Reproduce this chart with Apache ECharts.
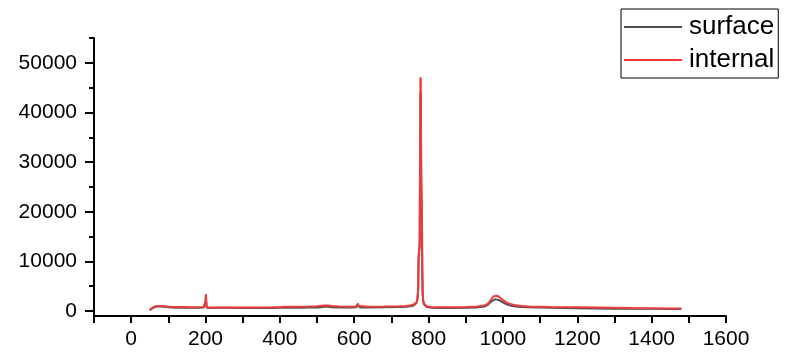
<!DOCTYPE html>
<html>
<head>
<meta charset="utf-8">
<script src="https://cdn.jsdelivr.net/npm/echarts@6/dist/echarts.min.js"></script>
<style>html,body{margin:0;padding:0;background:#fff;}#c{width:802px;height:359px;}</style>
</head>
<body>
<div id="c"></div>
<script>
var xValues = [50,55,60,65,70,80,90,100,120,140,160,180,195,198,200,201,202,203,205,210,230,260,300,340,380,400,410,420,450,480,500,510,520,530,540,560,590,605,608,610,612,615,640,680,720,740,750,760,765,768,770,772,773,774,775,776,777,778,779,780,781,782,783,784,785,787,790,795,800,810,830,860,900,930,950,960,970,975,980,985,990,1000,1010,1020,1030,1050,1070,1100,1130,1160,1200,1250,1300,1350,1400,1450,1480];
var surfaceValues = [150,500,700,850,900,900,850,750,650,650,650,680,700,900,1800,2800,1700,700,600,620,640,640,620,620,620,640,650,660,680,700,720,760,900,850,750,700,700,750,1000,1300,900,720,720,740,800,850,950,1100,1400,1700,2300,4200,10000,11300,11000,13000,28000,44000,43500,28000,21000,20000,8000,3600,2300,1400,1000,800,700,650,620,620,650,700,900,1300,2000,2300,2400,2350,2150,1750,1350,1100,950,820,750,700,650,620,550,500,480,460,440,420,400];
var internalValues = [200,600,800,950,1000,1000,950,850,800,800,780,780,800,1000,2000,3400,2000,800,700,700,720,720,720,730,740,760,850,850,880,900,950,1050,1100,1100,1000,900,880,900,1100,1500,1000,880,880,900,950,1000,1100,1300,1600,1800,2500,4500,11000,11900,11500,14000,30000,47100,46500,30000,23000,22000,9000,4000,2500,1600,1200,950,850,780,750,760,800,900,1100,1500,2500,3000,3200,3100,2800,2200,1700,1400,1200,1000,900,850,800,780,750,700,650,600,560,520,500];
var xTickLabels = ['0','200','400','600','800','1000','1200','1400','1600'];
var yTickLabels = ['0','10000','20000','30000','40000','50000'];

var font = 'Liberation Sans, Arial, sans-serif';
function pairs(ys){ return xValues.map(function(x,i){ return [x, ys[i]]; }); }
var yMajor = yTickLabels.map(Number);
var yMinor = yMajor.map(function(v){ return v + 5000; });

var chart = echarts.init(document.getElementById('c'), null, {renderer:'canvas'});
chart.setOption({
  animation: false,
  backgroundColor: '#fff',
  grid: {left: 94, right: 76, top: 38, bottom: 43, containLabel: false},
  legend: {
    orient: 'vertical', left: 621, top: 9,
    borderColor: '#000', borderWidth: 1, padding: [3, 4, 3, 3],
    icon: 'rect', itemWidth: 58, itemHeight: 2, itemGap: 3,
    textStyle: {fontFamily: font, fontSize: 26, lineHeight: 30, color: '#000', padding: [0, 0, 0, 2]},
    data: ['surface', 'internal']
  },
  xAxis: {
    type: 'value', min: -100, max: 1600, interval: 100,
    splitLine: {show: false},
    axisLine: {onZero: false, lineStyle: {color: '#000', width: 2}},
    axisTick: {show: true, length: 7, lineStyle: {color: '#000', width: 2}},
    axisLabel: {
      margin: 13, color: '#000', fontFamily: font, fontSize: 21,
      formatter: function(v){ var s = String(v); return xTickLabels.indexOf(s) >= 0 ? s : ''; }
    }
  },
  yAxis: [{
    type: 'value', min: -1000, max: 55000,
    splitLine: {show: false},
    axisLine: {onZero: false, lineStyle: {color: '#000', width: 2}},
    axisTick: {show: true, length: 9, customValues: yMajor, lineStyle: {color: '#000', width: 2}},
    axisLabel: {margin: 17, color: '#000', fontFamily: font, fontSize: 21, customValues: yMajor,
      formatter: function(v){ return String(v); }}
  }, {
    type: 'value', min: -1000, max: 55000, position: 'left', offset: 0,
    splitLine: {show: false},
    axisLine: {show: false, onZero: false},
    axisTick: {show: true, length: 5, customValues: yMinor, lineStyle: {color: '#000', width: 2}},
    axisLabel: {show: false}
  }],
  series: [{
    name: 'surface', type: 'line', data: pairs(surfaceValues),
    showSymbol: false, symbol: 'none',
    lineStyle: {color: '#4d4d4d', width: 2}, itemStyle: {color: '#4d4d4d'}
  }, {
    name: 'internal', type: 'line', data: pairs(internalValues),
    showSymbol: false, symbol: 'none',
    lineStyle: {color: '#ee3b3b', width: 2}, itemStyle: {color: '#ee3b3b'}
  }]
});
</script>
</body>
</html>
